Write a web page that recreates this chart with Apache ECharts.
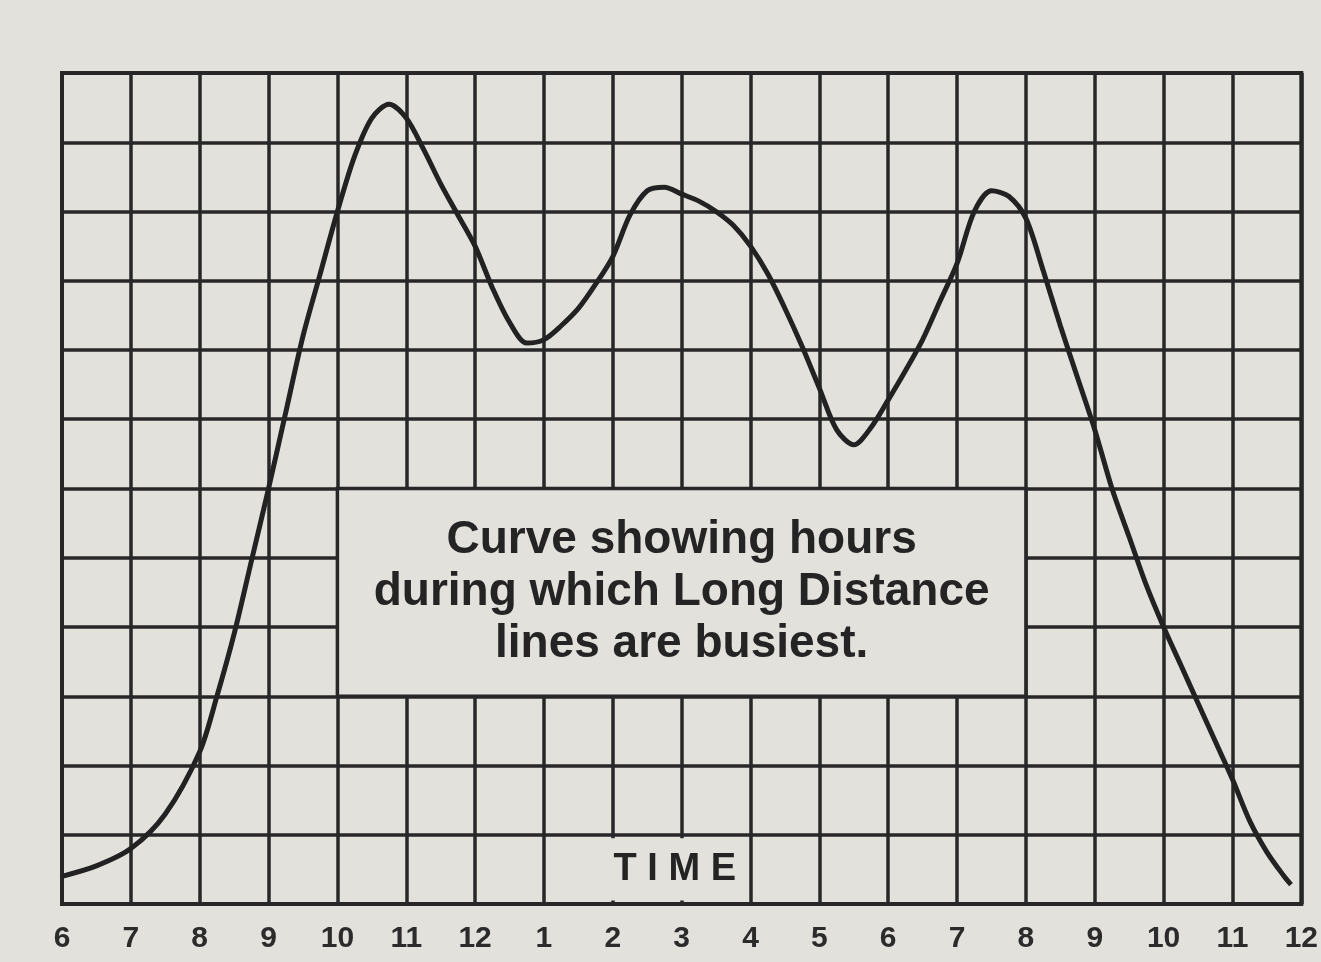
<!DOCTYPE html>
<html>
<head>
<meta charset="utf-8">
<title>Long Distance lines</title>
<script src="https://cdn.jsdelivr.net/npm/echarts@6/dist/echarts.min.js"></script>
<style>
  html, body { margin: 0; padding: 0; background: #e3e1dc; }
  #chart { width: 1321px; height: 962px; }
</style>
</head>
<body>
<div id="chart"></div>
<script>
// hour labels under the grid, 6 a.m. round to midnight
var hourLabels = ['6', '7', '8', '9', '10', '11', '12', '1', '2', '3', '4', '5', '6', '7', '8', '9', '10', '11', '12'];

// curve: hours after 6 a.m. / height in grid squares
var hoursX = [0, 0.5, 1, 1.5, 2, 2.25, 2.5, 2.75, 3, 3.25, 3.5, 3.75, 4, 4.25, 4.5, 4.75, 5, 5.25, 5.5, 5.75, 6, 6.25, 6.5, 6.75, 7, 7.25, 7.5, 7.75, 8, 8.25, 8.5, 8.75, 9, 9.25, 9.5, 9.75, 10, 10.25, 10.5, 10.75, 11, 11.25, 11.5, 11.75, 12, 12.25, 12.5, 12.75, 13, 13.25, 13.5, 13.75, 14, 14.25, 14.5, 14.75, 15, 15.25, 15.5, 15.75, 16, 16.25, 16.5, 16.75, 17, 17.25, 17.5, 17.75, 17.85];
var busyY = [0.4, 0.55, 0.8, 1.3, 2.2, 3.0, 3.9, 4.95, 6.0, 7.1, 8.2, 9.1, 10.0, 10.8, 11.35, 11.55, 11.35, 10.9, 10.4, 9.95, 9.5, 8.9, 8.4, 8.1, 8.15, 8.35, 8.6, 8.95, 9.35, 9.95, 10.3, 10.35, 10.25, 10.15, 10.0, 9.8, 9.5, 9.1, 8.6, 8.05, 7.45, 6.85, 6.63, 6.88, 7.28, 7.7, 8.15, 8.7, 9.25, 10.0, 10.3, 10.22, 9.9, 9.15, 8.35, 7.6, 6.85, 6.0, 5.3, 4.6, 4.0, 3.45, 2.9, 2.35, 1.8, 1.2, 0.75, 0.4, 0.28];

var noteText = ['Curve showing hours', 'during which Long Distance', 'lines are busiest.'];

var paper = '#e3e1dc';
var ink = '#272727';

var points = hoursX.map(function (h, i) { return [h, busyY[i]]; });

var myChart = echarts.init(document.getElementById('chart'));
myChart.setOption({
  backgroundColor: paper,
  animation: false,
  grid: {
    left: 62, right: 17, top: 73, bottom: 58,
    show: true, borderColor: ink, borderWidth: 4
  },
  xAxis: {
    type: 'value',
    min: 0, max: 18, interval: 1,
    axisLine: { show: true, lineStyle: { color: ink, width: 4 } },
    axisTick: { show: false },
    axisLabel: {
      formatter: function (v) { return hourLabels[v]; },
      fontFamily: 'Liberation Sans', fontSize: 30, fontWeight: 'bold',
      color: '#2b2b2b', margin: 20
    },
    splitLine: { show: true, lineStyle: { color: ink, width: 3.5 } }
  },
  yAxis: {
    type: 'value',
    min: 0, max: 12, interval: 1,
    axisLine: { show: true, lineStyle: { color: ink, width: 4 } },
    axisTick: { show: false },
    axisLabel: { show: false },
    splitLine: { show: true, lineStyle: { color: ink, width: 3.5 } }
  },
  series: [{
    type: 'line',
    data: points,
    smooth: 0.3,
    symbol: 'none',
    lineStyle: { color: '#222', width: 5 },
    markArea: {
      silent: true,
      data: [
        [{
          coord: [4, 6],
          itemStyle: { color: paper, borderColor: ink, borderWidth: 3.5, opacity: 1 },
          label: {
            show: true, position: 'inside',
            formatter: noteText.join('\n'),
            fontFamily: 'Liberation Sans', fontSize: 46, fontWeight: 'bold',
            lineHeight: 52, color: '#242424', align: 'center'
          }
        }, { coord: [14, 3] }],
        [{
          coord: [7.9, 0.95],
          itemStyle: { color: paper, borderWidth: 0, opacity: 1 },
          label: {
            show: true, position: 'inside',
            formatter: 'T I M E',
            fontFamily: 'Liberation Sans', fontSize: 38, fontWeight: 'bold',
            color: '#242424'
          }
        }, { coord: [9.9, 0.05] }]
      ]
    }
  }]
});
</script>
</body>
</html>
